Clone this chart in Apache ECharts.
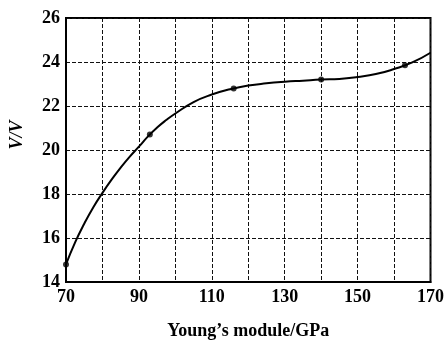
<!DOCTYPE html>
<html><head><meta charset="utf-8">
<script src="https://cdn.jsdelivr.net/npm/echarts@6/dist/echarts.min.js"></script>
<style>html,body{margin:0;padding:0;background:#fff}#c{width:447px;height:345px}</style>
</head><body><div id="c"></div>
<script>
const curveX = [70, 72.5, 75, 77.5, 80, 82.5, 85, 87.5, 90, 92.5, 95, 97.5, 100, 105, 110, 115, 120, 125, 130, 135, 140, 145, 150, 155, 160, 165, 170];
const curveY = [14.8, 15.8, 16.65, 17.4, 18.05, 18.65, 19.2, 19.7, 20.15, 20.62, 21.02, 21.36, 21.66, 22.18, 22.52, 22.76, 22.93, 23.03, 23.1, 23.15, 23.2, 23.23, 23.32, 23.45, 23.68, 23.98, 24.42];
const markX = [70, 93, 116, 140, 163];
const markY = [14.8, 20.7, 22.8, 23.2, 23.85];
const xTicks = [70, 90, 110, 130, 150, 170];
const yTicks = [14, 16, 18, 20, 22, 24, 26];

const font = 'Liberation Serif';
const chart = echarts.init(document.getElementById('c'), null, {renderer: 'canvas'});
chart.setOption({
  animation: false,
  grid: {left: 63, right: 14, top: 18, bottom: 63, show: true, borderColor: '#000', borderWidth: 2},
  xAxis: {
    type: 'value', min: 70, max: 170, interval: 10,
    name: 'Young\u2019s module/GPa', nameLocation: 'middle', nameGap: 40,
    nameTextStyle: {fontFamily: font, fontWeight: 'bold', fontSize: 18, color: '#000'},
    axisLine: {show: true, lineStyle: {color: '#000', width: 2}},
    axisTick: {show: false},
    axisLabel: {fontFamily: font, fontWeight: 'bold', fontSize: 18, color: '#000', margin: 6,
      formatter: v => xTicks.includes(v) ? String(v) : ''},
    splitLine: {show: true, lineStyle: {color: '#111', width: 1, type: [4, 2]}}
  },
  yAxis: {
    type: 'value', min: 14, max: 26, interval: 2,
    name: 'V/V', nameLocation: 'middle', nameGap: 40, nameRotate: 90,
    nameTextStyle: {fontFamily: font, fontWeight: 'bold', fontStyle: 'italic', fontSize: 18, color: '#000', padding: [0, 0, 0, 30]},
    axisLine: {show: true, lineStyle: {color: '#000', width: 2}},
    axisTick: {show: false},
    axisLabel: {fontFamily: font, fontWeight: 'bold', fontSize: 18, color: '#000', margin: 6,
      formatter: v => yTicks.includes(v) ? String(v) : ''},
    splitLine: {show: true, lineStyle: {color: '#111', width: 1, type: [4, 2]}}
  },
  series: [
    {type: 'line', data: curveX.map((x, i) => [x, curveY[i]]), smooth: 0.5, showSymbol: false,
     lineStyle: {color: '#000', width: 2}, z: 3},
    {type: 'scatter', data: markX.map((x, i) => [x, markY[i]]), symbol: 'circle', symbolSize: 6,
     itemStyle: {color: '#000'}, z: 4}
  ]
});
</script></body></html>
